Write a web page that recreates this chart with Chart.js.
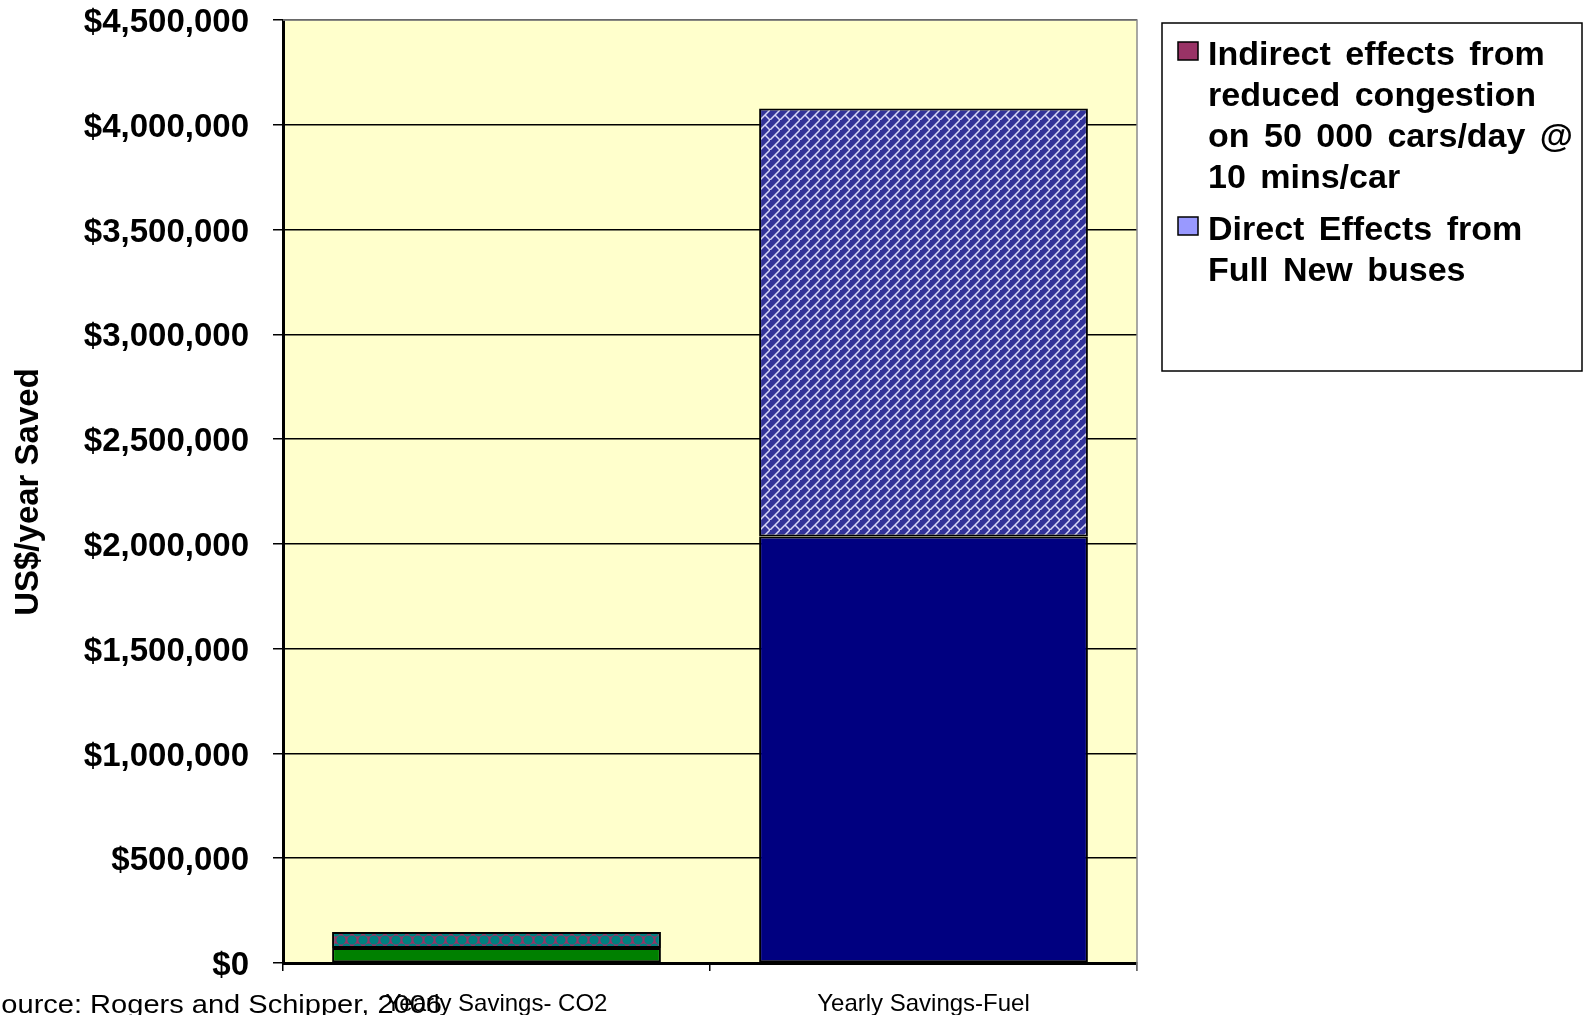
<!DOCTYPE html>
<html>
<head>
<meta charset="utf-8">
<script src="https://cdn.jsdelivr.net/npm/chart.js@4.4.0/dist/chart.umd.min.js"></script>
<style>
  html, body { margin: 0; padding: 0; background: #ffffff; overflow: hidden; }
  #wrap { position: relative; width: 1583px; height: 1015px; }
</style>
</head>
<body>
<div id="wrap"><canvas id="chart" width="1583" height="1015"></canvas></div>
<script>
// Yearly savings per category, stacked: direct effects at the bottom, indirect on top
const categories = ['Yearly Savings- CO2', 'Yearly Savings-Fuel'];
const directEffects = [71000, 2035000];
const indirectEffects = [77000, 2043000];

const seriesNames = ['Direct Effects from Full New buses',
  'Indirect effects from reduced congestion on 50 000 cars/day @ 10 mins/car'];
const legendLines = [
  ['Indirect effects from', 'reduced congestion', 'on 50 000 cars/day @', '10 mins/car'],
  ['Direct Effects from', 'Full New buses']
];
const yAxisTitle = 'US$/year Saved';
const sourceNote = 'Source: Rogers and Schipper, 2006';
const yMin = 0, yMax = 4500000, yStep = 500000;

const FONT = '"Liberation Sans", Arial, Helvetica, sans-serif';

// Fill patterns for the upper segments
function makeBrickPattern() {
  const s = 10;
  const c = document.createElement('canvas');
  c.width = s; c.height = s;
  const g = c.getContext('2d');
  g.fillStyle = '#333399';
  g.fillRect(0, 0, s, s);
  g.strokeStyle = '#d6d6f6';
  g.lineWidth = 1.5;
  g.beginPath();
  g.moveTo(-1, s + 1); g.lineTo(s + 1, -1);
  g.moveTo(s / 2, s / 2); g.lineTo(s + 1, s + 1);
  g.stroke();
  return g.createPattern(c, 'repeat');
}
function makeSpherePattern() {
  const w = 11, h = 16;
  const c = document.createElement('canvas');
  c.width = w; c.height = h;
  const g = c.getContext('2d');
  g.fillStyle = '#993366';
  g.fillRect(0, 0, w, h);
  g.fillStyle = '#008080';
  g.beginPath();
  for (const [x, y] of [[w / 2, 4], [0, 12], [w, 12], [w / 2, 20], [0, -4], [w, -4]]) {
    g.moveTo(x + 4.6, y);
    g.arc(x, y, 4.6, 0, Math.PI * 2);
  }
  g.fill();
  return g.createPattern(c, 'repeat');
}

const brick = makeBrickPattern();
const sphere = makeSpherePattern();

const decorations = {
  id: 'decorations',
  beforeDraw(chart) {
    const { ctx, chartArea: a } = chart;
    ctx.save();
    ctx.fillStyle = '#ffffcc';
    ctx.fillRect(a.left, a.top, a.right - a.left, a.bottom - a.top);
    ctx.restore();
  },
  afterDraw(chart) {
    const { ctx, chartArea: a } = chart;
    ctx.save();
    // light frame on the open sides of the plot
    ctx.strokeStyle = '#8c8c8c';
    ctx.lineWidth = 1.5;
    ctx.beginPath();
    ctx.moveTo(a.left, a.top); ctx.lineTo(a.right, a.top);
    ctx.lineTo(a.right, a.bottom + 8);
    ctx.stroke();

    // y-axis title
    ctx.fillStyle = '#000';
    ctx.font = 'bold 33px ' + FONT;
    ctx.textAlign = 'center';
    ctx.textBaseline = 'middle';
    ctx.translate(29, 492);
    ctx.rotate(-Math.PI / 2);
    ctx.fillText(yAxisTitle, 0, 0);
    ctx.setTransform(1, 0, 0, 1, 0, 0);

    // legend
    const box = { x: 1162, y: 23, w: 420, h: 348 };
    ctx.fillStyle = '#ffffff';
    ctx.fillRect(box.x, box.y, box.w, box.h);
    ctx.strokeStyle = '#000';
    ctx.lineWidth = 1.5;
    ctx.strokeRect(box.x, box.y, box.w, box.h);

    const swatches = ['#993366', '#9999ff'];
    const itemTops = [42, 217];
    ctx.font = 'bold 34px ' + FONT;
    ctx.textAlign = 'left';
    ctx.textBaseline = 'alphabetic';
    try { ctx.wordSpacing = '5px'; } catch (e) {}
    legendLines.forEach((lines, i) => {
      const top = itemTops[i];
      ctx.fillStyle = swatches[i];
      ctx.fillRect(1178, top, 20, 18);
      ctx.strokeStyle = '#000';
      ctx.lineWidth = 1.5;
      ctx.strokeRect(1178, top, 20, 18);
      ctx.fillStyle = '#000';
      lines.forEach((t, j) => ctx.fillText(t, 1208, top + 23 + j * 41));
    });
    try { ctx.wordSpacing = '0px'; } catch (e) {}

    // source note
    ctx.font = '25px ' + FONT;
    ctx.fillStyle = '#000';
    const natural = ctx.measureText(sourceNote).width;
    const sx = 460 / natural;
    ctx.translate(-18, 1013);
    ctx.scale(sx, 1);
    ctx.fillText(sourceNote, 0, 0);
    ctx.restore();
  }
};

new Chart(document.getElementById('chart'), {
  type: 'bar',
  data: {
    labels: categories,
    datasets: [
      {
        label: seriesNames[0],
        data: directEffects,
        backgroundColor: ['#008000', '#000080'],
        borderColor: '#000',
        borderWidth: 2,
        borderSkipped: false,
        barPercentage: 0.77,
        categoryPercentage: 1.0
      },
      {
        label: seriesNames[1],
        data: indirectEffects,
        backgroundColor: [sphere, brick],
        borderColor: '#000',
        borderWidth: 2,
        borderSkipped: false,
        barPercentage: 0.77,
        categoryPercentage: 1.0
      }
    ]
  },
  options: {
    responsive: false,
    animation: false,
    devicePixelRatio: 1,
    layout: { padding: { left: 0, right: 446, top: 20, bottom: 0 } },
    plugins: {
      legend: { display: false },
      tooltip: { enabled: false },
      title: { display: false }
    },
    scales: {
      x: {
        stacked: true,
        offset: true,
        grid: {
          offset: true,
          drawOnChartArea: false,
          color: '#000',
          lineWidth: 1.5,
          tickLength: 8
        },
        border: { color: '#000', width: 3 },
        ticks: {
          color: '#000',
          font: { family: FONT, size: 24 },
          padding: 19,
          maxRotation: 0,
          autoSkip: false
        },
        afterFit(s) { s.height = 52; s.paddingLeft = 0; s.paddingRight = 0; }
      },
      y: {
        stacked: true,
        min: yMin,
        max: yMax,
        grid: {
          color: '#000',
          lineWidth: 1.5,
          tickLength: 10
        },
        border: { color: '#000', width: 3 },
        ticks: {
          stepSize: yStep,
          color: '#000',
          font: { family: FONT, size: 33, weight: 'bold' },
          padding: 24,
          labelOffset: 3,
          callback: v => '$' + Number(v).toLocaleString('en-US')
        },
        afterFit(s) { s.width = 283; s.paddingTop = 0; s.paddingBottom = 0; }
      }
    }
  },
  plugins: [decorations]
});
</script>
</body>
</html>
